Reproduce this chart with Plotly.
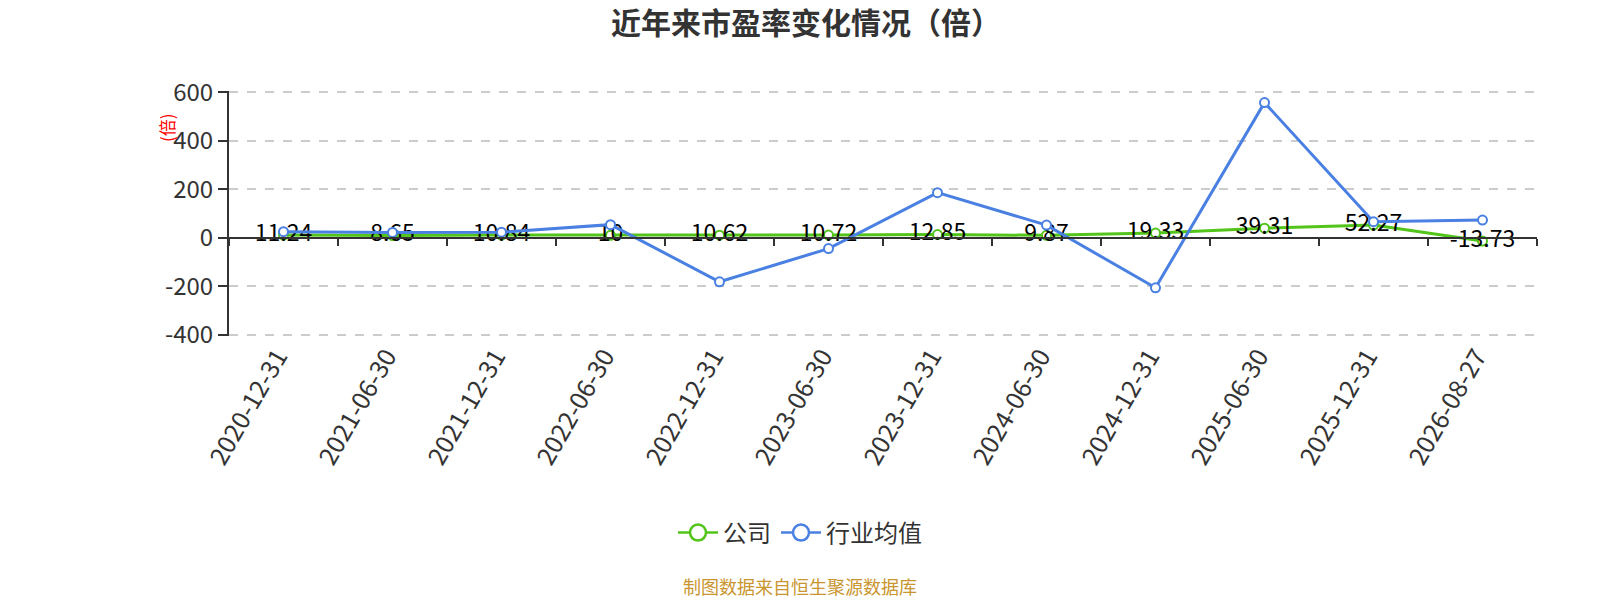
import plotly.graph_objects as go

dates = ["2020-12-31", "2021-06-30", "2021-12-31", "2022-06-30", "2022-12-31", "2023-06-30",
         "2023-12-31", "2024-06-30", "2024-12-31", "2025-06-30", "2025-12-31", "2026-08-27"]
company = [11.24, 8.65, 10.84, 10, 10.62, 10.72, 12.85, 9.87, 19.33, 39.31, 52.27, -13.73]
industry = [25, 22, 23, 54, -182, -45, 186, 52, -207, 558, 66, 73]
company_labels = ["11.24", "8.65", "10.84", "10", "10.62", "10.72", "12.85", "9.87", "19.33", "39.31", "52.27", "-13.73"]
y_ticks = [-400, -200, 0, 200, 400, 600]
y_tick_text = ["-400", "-200", "0", "200", "400", "600"]

FONT = "Noto Sans CJK SC, Microsoft YaHei, sans-serif"
GREEN = "#52c41a"
BLUE = "#4a80e2"

# plot area in pixels
L, R, T, B = 229, 1537, 91, 336
PW, PH = R - L, B - T
YMIN, YMAX = -406, 606

fig = go.Figure()
fig.add_trace(go.Scatter(
    x=dates, y=industry, name="行业均值", mode="lines+markers", showlegend=False,
    xaxis="x2",
    line=dict(color=BLUE, width=3),
    marker=dict(symbol="circle", size=9, color="white", line=dict(color=BLUE, width=2)),
))
fig.add_trace(go.Scatter(
    x=dates, y=company, name="公司", mode="lines+markers+text", showlegend=False,
    line=dict(color=GREEN, width=3),
    marker=dict(symbol="circle", size=9, color="white", line=dict(color=GREEN, width=2)),
    text=company_labels, textposition="middle center",
    textfont=dict(size=23, color="#000", family=FONT),
))
for name, color in [("公司", GREEN), ("行业均值", BLUE)]:
    fig.add_trace(go.Scatter(
        x=[None], y=[None], name=name, mode="lines+markers",
        line=dict(color=color, width=2.5),
        marker=dict(symbol="circle", size=16, color="white", line=dict(color=color, width=2.5)),
    ))

fig.update_layout(
    width=1600, height=600,
    paper_bgcolor="white", plot_bgcolor="white",
    margin=dict(l=L, r=1600 - R, t=T, b=600 - B),
    font=dict(family=FONT, color="#333"),
    title=dict(text="<b>近年来市盈率变化情况（倍）</b>", x=806 / 1600, xref="container", xanchor="center",
               y=1 - 23 / 600, yref="container", yanchor="middle",
               font=dict(size=30, color="#333", family=FONT)),
    showlegend=True,
    legend=dict(orientation="h", xref="container", x=800 / 1600, xanchor="center",
                yref="container", y=1 - 533 / 600, yanchor="middle",
                font=dict(size=24, color="#333", family=FONT), itemwidth=40),
    xaxis=dict(type="category", categoryorder="array", categoryarray=dates,
               range=[-0.5, 11.5], tickangle=-60, showline=False, ticks="",
               showgrid=False, zeroline=False, ticklabelshift=-6,
               tickfont=dict(size=25, color="#333", family=FONT)),
    xaxis2=dict(type="category", categoryorder="array", categoryarray=dates,
                overlaying="x", matches="x", anchor="free", position=(0 - YMIN) / (YMAX - YMIN),
                tickson="boundaries", showticklabels=False, ticks="outside", ticklen=7,
                tickcolor="#333", tickwidth=2,
                showline=True, linecolor="#333", linewidth=2, showgrid=False, zeroline=False),
    yaxis=dict(range=[YMIN, YMAX], tickmode="array", tickvals=y_ticks, ticktext=y_tick_text,
               showline=True, linecolor="#333", linewidth=2, ticks="outside", ticklen=9,
               tickcolor="#333", tickwidth=2, showgrid=True, gridcolor="#cccccc", griddash="dash",
               gridwidth=1.5, zeroline=False, tickfont=dict(size=24, color="#333", family=FONT)),
)

fig.add_annotation(text="(倍)", textangle=-90, xref="paper", yref="paper",
                   x=(166 - L) / PW, y=(B - 128) / PH, showarrow=False,
                   xanchor="center", yanchor="middle",
                   font=dict(size=17, color="red", family=FONT))
fig.add_annotation(text="制图数据来自恒生聚源数据库", xref="paper", yref="paper",
                   x=(800 - L) / PW, y=(B - 586) / PH, showarrow=False,
                   xanchor="center", yanchor="middle",
                   font=dict(size=18, color="#c9952e", family=FONT))

fig.write_html("out.html", config={"displayModeBar": False},
               post_script="document.body.style.margin='0px';")
